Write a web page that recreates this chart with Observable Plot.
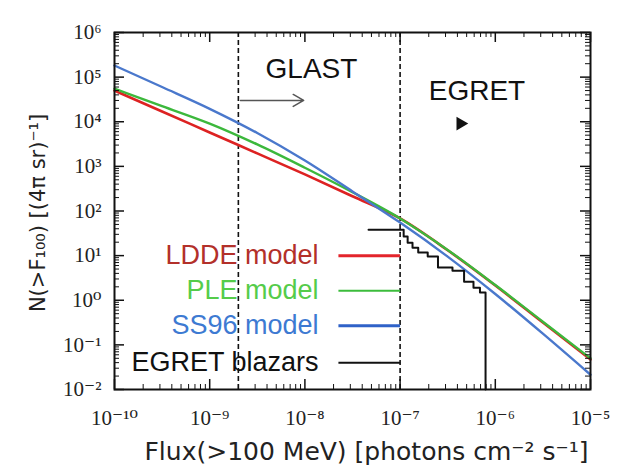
<!DOCTYPE html>
<html><head><meta charset="utf-8">
<script src="https://cdn.jsdelivr.net/npm/d3@7"></script>
<script src="https://cdn.jsdelivr.net/npm/@observablehq/plot@0.6"></script>
<style>body{margin:0;background:#fff}</style>
</head><body><div id="chart"></div>
<script>
// ---- data ----
const flux = [1e-10, 3.16e-10, 1e-9, 3.16e-9, 1e-8, 3.16e-8, 1e-7, 3.16e-7, 1e-6, 3.16e-6, 1e-5];
const nLDDE = [5.0e4, 1.7e4, 5.75e3, 1.95e3, 660, 214, 68, 13.2, 2.14, 0.316, 0.047];
const nPLE  = [5.5e4, 2.24e4, 9.1e3, 3.1e3, 930, 263, 68, 13.4, 2.19, 0.33, 0.05];
const nSS96 = [1.82e5, 6.0e4, 1.95e4, 5.6e3, 1.35e3, 275, 55, 9.5, 1.38, 0.178, 0.0214];

const egretFlux = [4.66e-8, 1.09e-7, 1.2e-7, 1.35e-7, 1.55e-7, 1.95e-7, 2.5e-7, 3.55e-7, 4.7e-7, 5.9e-7, 6.9e-7, 7.9e-7];
const egretN    = [38, 27, 19.5, 15, 11.7, 9.5, 5.4, 4.6, 2.6, 1.9, 1.5, 0.01];

const thresholds = [2e-9, 1e-7];   // GLAST, EGRET sensitivity

const xTicks = [1e-10, 1e-9, 1e-8, 1e-7, 1e-6, 1e-5];
const xTickLabels = ["10⁻¹⁰", "10⁻⁹", "10⁻⁸", "10⁻⁷", "10⁻⁶", "10⁻⁵"];
const yTicks = [1e6, 1e5, 1e4, 1e3, 1e2, 1e1, 1e0, 1e-1, 1e-2];
const yTickLabels = ["10⁶", "10⁵", "10⁴", "10³", "10²", "10¹", "10⁰", "10⁻¹", "10⁻²"];

const legendLabels = ["LDDE model", "PLE model", "SS96 model", "EGRET blazars"];
const legendY = [10, 1.64, 0.27, 0.04];
const legendTextColors = ["#b3302a", "#55cc4a", "#3d7ad2", "#111"];
const legendLineColors = ["#e3242b", "#3cbc3c", "#2f62c8", "#111"];
const legendLineWidths = [3, 2, 3, 2];
const legendTextX = 1.39e-8, legendLineX1 = 2.25e-8, legendLineX2 = 1e-7;

const annotLabels = ["GLAST", "EGRET"];
const annotX = [3.86e-9, 2.0e-7];
const annotY = [9.8e4, 3.0e4];
const glastArrow = {x1: 2.1e-9, x2: 9.7e-9, y: 3.0e4};
const egretArrowHead = {x: 4.3e-7, y: 9.1e3};

const xTitle = "Flux(>100 MeV) [photons cm⁻² s⁻¹]";
const yTitle = "N(>F₁₀₀) [(4π sr)⁻¹]";

// ---- build ----
const W = 618, H = 468, mL = 114, mR = 28, mT = 32, mB = 79;
const plotW = W - mL - mR, plotH = H - mT - mB;
const minorOf = (majors) => majors.slice(0, -1).flatMap(m => d3.range(2, 10).map(k => k * m));
const xMinor = minorOf(xTicks.slice().sort((a,b)=>a-b));
const yMinor = minorOf(yTicks.slice().sort((a,b)=>a-b));

const curve = (n) => flux.map((f, i) => ({f, n: n[i]}));
const egret = egretFlux.map((f, i) => ({f, n: egretN[i]}));
const legend = legendLabels.map((l, i) => ({l, y: legendY[i], tc: legendTextColors[i], lc: legendLineColors[i], w: legendLineWidths[i]}));
const annots = annotLabels.map((l, i) => ({l, x: annotX[i], y: annotY[i]}));

const tickFont = "Liberation Serif, DejaVu Serif, serif";
const sans = "Liberation Sans, Arial, sans-serif";

const chart = Plot.plot({
  width: W, height: H,
  marginLeft: mL, marginRight: mR, marginTop: mT, marginBottom: mB,
  style: {background: "#fff", fontFamily: sans},
  x: {type: "log", domain: [1e-10, 1e-5], axis: null},
  y: {type: "log", domain: [1e-2, 1e6], axis: null},
  marks: [
    // threshold dashed lines
    Plot.ruleX(thresholds, {stroke: "#111", strokeWidth: 1.6, strokeDasharray: "5,3"}),
    // model curves
    Plot.line(curve(nLDDE), {x: "f", y: "n", stroke: "#dd2222", strokeWidth: 2.6, curve: "monotone-x"}),
    Plot.line(curve(nPLE),  {x: "f", y: "n", stroke: "#3cb83c", strokeWidth: 2.4, curve: "monotone-x"}),
    Plot.line(curve(nSS96), {x: "f", y: "n", stroke: "#4a78cc", strokeWidth: 2.4, curve: "monotone-x"}),
    // EGRET blazars cumulative counts
    Plot.line(egret, {x: "f", y: "n", stroke: "#111", strokeWidth: 2, curve: "step-after"}),
    // legend
    Plot.link(legend, {x1: () => legendLineX1, x2: () => legendLineX2, y1: "y", y2: "y", stroke: "lc", strokeWidth: "w"}),
    Plot.text(legend, {x: () => legendTextX, y: "y", text: "l", fill: "tc", textAnchor: "end", fontSize: 27, fontFamily: sans}),
    // annotations
    Plot.text(annots, {x: "x", y: "y", text: "l", textAnchor: "start", lineAnchor: "bottom", fontSize: 28, fill: "#111", fontFamily: sans}),
    Plot.arrow([glastArrow], {x1: "x1", x2: "x2", y1: "y", y2: "y", stroke: "#555", strokeWidth: 1.5, headLength: 12}),
    Plot.dot([egretArrowHead], {x: "x", y: "y", symbol: "triangle2", rotate: 90, r: 6.5, fill: "#111", stroke: "none"}),
    // inward ticks, all four sides
    Plot.tickY(yTicks, {y: d => d, insetRight: plotW - 10, stroke: "#111", strokeWidth: 1.5}),
    Plot.tickY(yMinor, {y: d => d, insetRight: plotW - 5, stroke: "#111", strokeWidth: 1}),
    Plot.tickY(yTicks, {y: d => d, insetLeft: plotW - 10, stroke: "#111", strokeWidth: 1.5}),
    Plot.tickY(yMinor, {y: d => d, insetLeft: plotW - 5, stroke: "#111", strokeWidth: 1}),
    Plot.tickX(xTicks, {x: d => d, insetTop: plotH - 10, stroke: "#111", strokeWidth: 1.5}),
    Plot.tickX(xMinor, {x: d => d, insetTop: plotH - 5, stroke: "#111", strokeWidth: 1}),
    Plot.tickX(xTicks, {x: d => d, insetBottom: plotH - 10, stroke: "#111", strokeWidth: 1.5}),
    Plot.tickX(xMinor, {x: d => d, insetBottom: plotH - 5, stroke: "#111", strokeWidth: 1}),
    Plot.frame({stroke: "#111", strokeWidth: 2}),
    // tick labels
    Plot.text(xTicks, {x: d => d, frameAnchor: "bottom", dy: 35, text: (d, i) => xTickLabels[i], fontSize: 21, fill: "#222", fontFamily: tickFont}),
    Plot.text(yTicks, {y: d => d, frameAnchor: "left", dx: -13, textAnchor: "end", text: (d, i) => yTickLabels[i], fontSize: 21, fill: "#222", fontFamily: tickFont}),
    // axis titles
    Plot.text([xTitle], {frameAnchor: "bottom", textAnchor: "middle", dx: 14, dy: 70, text: d => d, fontSize: 25, fill: "#222", fontFamily: "DejaVu Sans, sans-serif"}),
    Plot.text([yTitle], {frameAnchor: "left", textAnchor: "middle", lineAnchor: "middle", dx: -76, dy: 2, rotate: -90, text: d => d, fontSize: 21, fill: "#222", fontFamily: "DejaVu Sans, sans-serif"})
  ]
});
document.getElementById("chart").appendChild(chart);
</script>
</body></html>
